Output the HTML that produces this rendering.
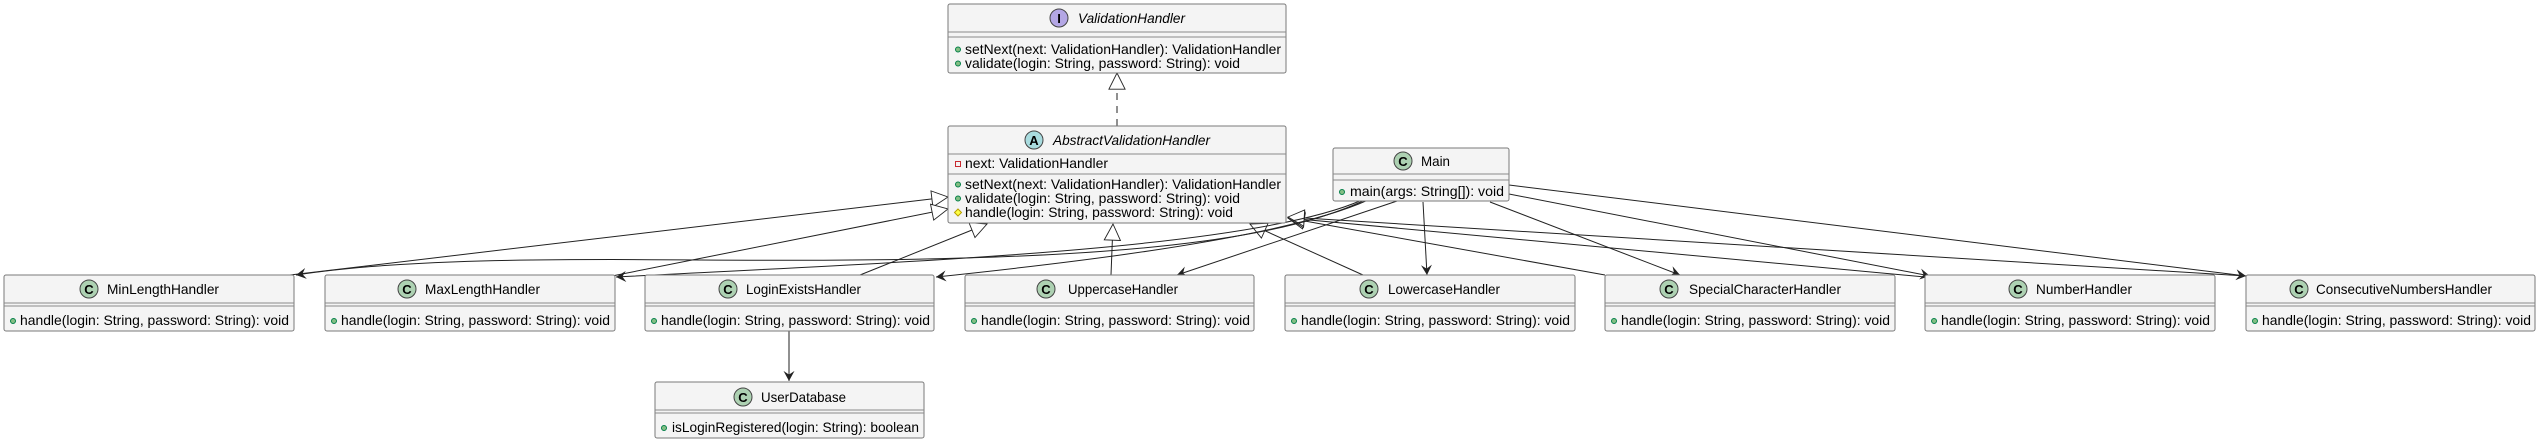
<!DOCTYPE html>
<html><head><meta charset="utf-8"><style>
html,body{margin:0;padding:0;background:#fff;}
svg{display:block;font-family:"Liberation Sans",sans-serif;}
.b{fill:#f4f4f4;stroke:#7a7a7a;stroke-width:1;}
.d{stroke:#8a8a8a;stroke-width:1;}
.n{font-size:14px;fill:#000;}
.m{font-size:14px;fill:#000;}
.e{fill:none;stroke:#222;stroke-width:1;}
</style></head><body>
<svg width="2539" height="444" viewBox="0 0 2539 444" xmlns="http://www.w3.org/2000/svg">
<defs>
<marker id="tri" viewBox="0 0 20 20" refX="19" refY="10" markerWidth="18" markerHeight="18" markerUnits="userSpaceOnUse" orient="auto"><path d="M1,1 L19,10 L1,19 Z" fill="#fff" stroke="#222"/></marker>
<marker id="arr" viewBox="0 0 12 12" refX="11" refY="6" markerWidth="11" markerHeight="11" markerUnits="userSpaceOnUse" orient="auto"><path d="M0,0 L11,6 L0,12 L4,6 Z" fill="#222"/></marker>
</defs>

<line class="e" x1="1117" y1="126" x2="1117" y2="73" stroke-dasharray="7,6" marker-end="url(#tri)"/>
<line class="e" x1="290" y1="275" x2="948" y2="197" marker-end="url(#tri)"/>
<line class="e" x1="612" y1="276" x2="948" y2="209" marker-end="url(#tri)"/>
<line class="e" x1="860" y1="275" x2="987" y2="224" marker-end="url(#tri)"/>
<line class="e" x1="1111" y1="275" x2="1113" y2="224" marker-end="url(#tri)"/>
<line class="e" x1="1363" y1="275" x2="1250" y2="224" marker-end="url(#tri)"/>
<line class="e" x1="1605" y1="275" x2="1288" y2="218" marker-end="url(#tri)"/>
<line class="e" x1="1925" y1="277" x2="1288" y2="218" marker-end="url(#tri)"/>
<line class="e" x1="2246" y1="276" x2="1288" y2="217" marker-end="url(#tri)"/>

<path class="e" d="M1365,200 C1250,255 1000,262 700,260 C500,258 380,262 296,275" marker-end="url(#arr)"/>
<path class="e" d="M1362,200 C1250,250 900,262 616,277" marker-end="url(#arr)"/>
<path class="e" d="M1368,200 C1280,240 1050,265 936,277" marker-end="url(#arr)"/>
<line class="e" x1="1400" y1="200" x2="1177" y2="275" marker-end="url(#arr)"/>
<line class="e" x1="1423" y1="202" x2="1427" y2="275" marker-end="url(#arr)"/>
<line class="e" x1="1490" y1="202" x2="1680" y2="275" marker-end="url(#arr)"/>
<line class="e" x1="1509" y1="194" x2="1930" y2="276" marker-end="url(#arr)"/>
<line class="e" x1="1509" y1="185" x2="2246" y2="276" marker-end="url(#arr)"/>
<line class="e" x1="789" y1="331" x2="789" y2="381" marker-end="url(#arr)"/>

<!-- ValidationHandler -->
<rect class="b" x="948" y="4" width="338" height="69" rx="2"/>
<line class="d" x1="948" y1="32" x2="1286" y2="32"/><line class="d" x1="948" y1="37" x2="1286" y2="37"/>
<circle cx="1059" cy="18" r="9" fill="#b4a7e5" stroke="#444"/><text x="1059" y="23" font-size="13" font-weight="bold" text-anchor="middle">I</text>
<text x="1078" y="23" class="n" font-style="italic" textLength="107" lengthAdjust="spacingAndGlyphs">ValidationHandler</text>
<circle cx="958" cy="49.5" r="2.5" fill="#84be84" stroke="#038048"/><text x="965" y="54" class="m" textLength="316" lengthAdjust="spacingAndGlyphs">setNext(next: ValidationHandler): ValidationHandler</text>
<circle cx="958" cy="63.5" r="2.5" fill="#84be84" stroke="#038048"/><text x="965" y="68" class="m" textLength="275" lengthAdjust="spacingAndGlyphs">validate(login: String, password: String): void</text>

<!-- Abstract -->
<rect class="b" x="948" y="126" width="338" height="97" rx="2"/>
<line class="d" x1="948" y1="154" x2="1286" y2="154"/><line class="d" x1="948" y1="174" x2="1286" y2="174"/>
<circle cx="1034" cy="140" r="9" fill="#a9dcdf" stroke="#444"/><text x="1034" y="145" font-size="13" font-weight="bold" text-anchor="middle">A</text>
<text x="1053" y="145" class="n" font-style="italic" textLength="157" lengthAdjust="spacingAndGlyphs">AbstractValidationHandler</text>
<rect x="955.5" y="161.5" width="5" height="5" fill="#f4f4f4" stroke="#c82930"/><text x="965" y="168" class="m" textLength="143" lengthAdjust="spacingAndGlyphs">next: ValidationHandler</text>
<circle cx="958" cy="184.5" r="2.5" fill="#84be84" stroke="#038048"/><text x="965" y="189" class="m" textLength="316" lengthAdjust="spacingAndGlyphs">setNext(next: ValidationHandler): ValidationHandler</text>
<circle cx="958" cy="198.5" r="2.5" fill="#84be84" stroke="#038048"/><text x="965" y="203" class="m" textLength="275" lengthAdjust="spacingAndGlyphs">validate(login: String, password: String): void</text>
<path d="M958,209 L961.5,212.5 L958,216 L954.5,212.5 Z" fill="#ffff44" stroke="#b8a000"/><text x="965" y="217" class="m" textLength="268" lengthAdjust="spacingAndGlyphs">handle(login: String, password: String): void</text>

<!-- Main -->
<rect class="b" x="1333" y="148" width="176" height="53" rx="2"/>
<line class="d" x1="1333" y1="174" x2="1509" y2="174"/><line class="d" x1="1333" y1="180" x2="1509" y2="180"/>
<circle cx="1403" cy="161" r="9" fill="#add1b2" stroke="#444"/><text x="1403" y="166" font-size="13" font-weight="bold" text-anchor="middle">C</text>
<text x="1421" y="166" class="n" textLength="29" lengthAdjust="spacingAndGlyphs">Main</text>
<circle cx="1342" cy="192" r="2.5" fill="#84be84" stroke="#038048"/><text x="1350" y="196" class="m" textLength="154" lengthAdjust="spacingAndGlyphs">main(args: String[]): void</text>

<!-- handlers -->
<rect class="b" x="4" y="275" width="290" height="56" rx="2"/><line class="d" x1="4" y1="303" x2="294" y2="303"/><line class="d" x1="4" y1="306" x2="294" y2="306"/>
<circle cx="89" cy="289" r="9" fill="#add1b2" stroke="#444"/><text x="89" y="294" font-size="13" font-weight="bold" text-anchor="middle">C</text><text x="107" y="294" class="n" textLength="112" lengthAdjust="spacingAndGlyphs">MinLengthHandler</text>
<circle cx="13" cy="321" r="2.5" fill="#84be84" stroke="#038048"/><text x="20" y="325" class="m" textLength="269" lengthAdjust="spacingAndGlyphs">handle(login: String, password: String): void</text>

<rect class="b" x="325" y="275" width="290" height="56" rx="2"/><line class="d" x1="325" y1="303" x2="615" y2="303"/><line class="d" x1="325" y1="306" x2="615" y2="306"/>
<circle cx="407" cy="289" r="9" fill="#add1b2" stroke="#444"/><text x="407" y="294" font-size="13" font-weight="bold" text-anchor="middle">C</text><text x="425" y="294" class="n" textLength="115" lengthAdjust="spacingAndGlyphs">MaxLengthHandler</text>
<circle cx="334" cy="321" r="2.5" fill="#84be84" stroke="#038048"/><text x="341" y="325" class="m" textLength="269" lengthAdjust="spacingAndGlyphs">handle(login: String, password: String): void</text>

<rect class="b" x="645" y="275" width="289" height="56" rx="2"/><line class="d" x1="645" y1="303" x2="934" y2="303"/><line class="d" x1="645" y1="306" x2="934" y2="306"/>
<circle cx="728" cy="289" r="9" fill="#add1b2" stroke="#444"/><text x="728" y="294" font-size="13" font-weight="bold" text-anchor="middle">C</text><text x="746" y="294" class="n" textLength="115" lengthAdjust="spacingAndGlyphs">LoginExistsHandler</text>
<circle cx="654" cy="321" r="2.5" fill="#84be84" stroke="#038048"/><text x="661" y="325" class="m" textLength="269" lengthAdjust="spacingAndGlyphs">handle(login: String, password: String): void</text>

<rect class="b" x="965" y="275" width="289" height="56" rx="2"/><line class="d" x1="965" y1="303" x2="1254" y2="303"/><line class="d" x1="965" y1="306" x2="1254" y2="306"/>
<circle cx="1046" cy="289" r="9" fill="#add1b2" stroke="#444"/><text x="1046" y="294" font-size="13" font-weight="bold" text-anchor="middle">C</text><text x="1068" y="294" class="n" textLength="110" lengthAdjust="spacingAndGlyphs">UppercaseHandler</text>
<circle cx="974" cy="321" r="2.5" fill="#84be84" stroke="#038048"/><text x="981" y="325" class="m" textLength="269" lengthAdjust="spacingAndGlyphs">handle(login: String, password: String): void</text>

<rect class="b" x="1285" y="275" width="290" height="56" rx="2"/><line class="d" x1="1285" y1="303" x2="1575" y2="303"/><line class="d" x1="1285" y1="306" x2="1575" y2="306"/>
<circle cx="1369" cy="289" r="9" fill="#add1b2" stroke="#444"/><text x="1369" y="294" font-size="13" font-weight="bold" text-anchor="middle">C</text><text x="1388" y="294" class="n" textLength="112" lengthAdjust="spacingAndGlyphs">LowercaseHandler</text>
<circle cx="1294" cy="321" r="2.5" fill="#84be84" stroke="#038048"/><text x="1301" y="325" class="m" textLength="269" lengthAdjust="spacingAndGlyphs">handle(login: String, password: String): void</text>

<rect class="b" x="1605" y="275" width="290" height="56" rx="2"/><line class="d" x1="1605" y1="303" x2="1895" y2="303"/><line class="d" x1="1605" y1="306" x2="1895" y2="306"/>
<circle cx="1669" cy="289" r="9" fill="#add1b2" stroke="#444"/><text x="1669" y="294" font-size="13" font-weight="bold" text-anchor="middle">C</text><text x="1689" y="294" class="n" textLength="152" lengthAdjust="spacingAndGlyphs">SpecialCharacterHandler</text>
<circle cx="1614" cy="321" r="2.5" fill="#84be84" stroke="#038048"/><text x="1621" y="325" class="m" textLength="269" lengthAdjust="spacingAndGlyphs">handle(login: String, password: String): void</text>

<rect class="b" x="1925" y="275" width="290" height="56" rx="2"/><line class="d" x1="1925" y1="303" x2="2215" y2="303"/><line class="d" x1="1925" y1="306" x2="2215" y2="306"/>
<circle cx="2018" cy="289" r="9" fill="#add1b2" stroke="#444"/><text x="2018" y="294" font-size="13" font-weight="bold" text-anchor="middle">C</text><text x="2036" y="294" class="n" textLength="96" lengthAdjust="spacingAndGlyphs">NumberHandler</text>
<circle cx="1934" cy="321" r="2.5" fill="#84be84" stroke="#038048"/><text x="1941" y="325" class="m" textLength="269" lengthAdjust="spacingAndGlyphs">handle(login: String, password: String): void</text>

<rect class="b" x="2246" y="275" width="289" height="56" rx="2"/><line class="d" x1="2246" y1="303" x2="2535" y2="303"/><line class="d" x1="2246" y1="306" x2="2535" y2="306"/>
<circle cx="2299" cy="289" r="9" fill="#add1b2" stroke="#444"/><text x="2299" y="294" font-size="13" font-weight="bold" text-anchor="middle">C</text><text x="2316" y="294" class="n" textLength="176" lengthAdjust="spacingAndGlyphs">ConsecutiveNumbersHandler</text>
<circle cx="2255" cy="321" r="2.5" fill="#84be84" stroke="#038048"/><text x="2262" y="325" class="m" textLength="269" lengthAdjust="spacingAndGlyphs">handle(login: String, password: String): void</text>

<!-- UserDatabase -->
<rect class="b" x="655" y="382" width="269" height="56" rx="2"/><line class="d" x1="655" y1="410" x2="924" y2="410"/><line class="d" x1="655" y1="413" x2="924" y2="413"/>
<circle cx="743" cy="397" r="9" fill="#add1b2" stroke="#444"/><text x="743" y="402" font-size="13" font-weight="bold" text-anchor="middle">C</text><text x="761" y="402" class="n" textLength="85" lengthAdjust="spacingAndGlyphs">UserDatabase</text>
<circle cx="664" cy="428" r="2.5" fill="#84be84" stroke="#038048"/><text x="672" y="432" class="m" textLength="247" lengthAdjust="spacingAndGlyphs">isLoginRegistered(login: String): boolean</text>
</svg>
</body></html>
